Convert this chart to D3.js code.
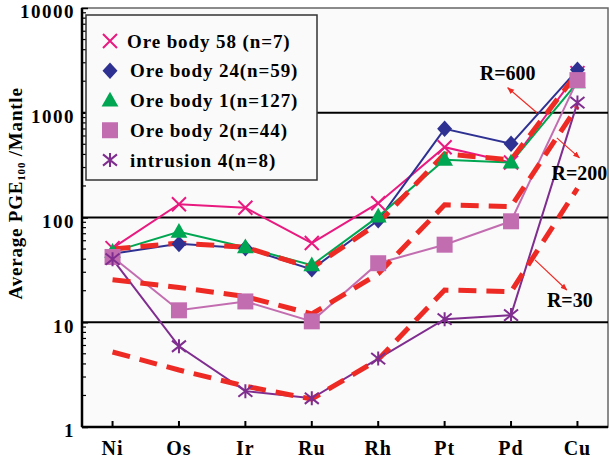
<!DOCTYPE html>
<html>
<head>
<meta charset="utf-8">
<script src="https://cdn.jsdelivr.net/npm/d3@7"></script>
<style>
  body { margin: 0; background: #fff; }
  text { font-family: "Liberation Serif", "Times New Roman", serif; font-weight: bold; }
</style>
</head>
<body>
<div id="wrapper"></div>
<script>
// data
const elements = ["Ni", "Os", "Ir", "Ru", "Rh", "Pt", "Pd", "Cu"]
const yTickValues = [1, 10, 100, 1000, 10000]

const oreBody58 = [51, 134, 124, 57, 137, 469, 335, 2390]
const oreBody24 = [45, 56, 51, 32, 94, 702, 505, 2570]
const oreBody1 = [47, 73, 52, 35, 102, 355, 335, 1950]
const oreBody2 = [42, 13, 15.8, 10.2, 36.6, 55, 92, 2050]
const intrusion4 = [40, 5.9, 2.2, 1.88, 4.5, 10.7, 11.7, 1250]

const modelR600 = [50, 57, 52, 33, 88, 405, 355, 2400]
const modelR200 = [25.5, 21.5, 17.6, 12, 29, 132, 127, 1150]
const modelR30 = [5.2, 3.5, 2.45, 1.85, 4.4, 20.3, 19.6, 190]

const seriesNames = ["Ore body 58 (n=7)", "Ore body 24(n=59)", "Ore body 1(n=127)", "Ore body 2(n=44)", "intrusion 4(n=8)"]

// annotation positions as (fractional element index, value)
const labels = [
  {text: "R=600", i: 5.95, v: 2400, anchor: "middle"},
  {text: "R=200", i: 7.45, v: 267, anchor: "end"},
  {text: "R=30", i: 6.54, v: 16.3, anchor: "start"},
]
const arrows = [
  {i0: 6.39, v0: 1000, i1: 5.95, v1: 1730},
  {i0: 6.69, v0: 576, i1: 7.03, v1: 371},
  {i0: 6.36, v0: 39.4, i1: 6.84, v1: 20.3},
]

const series = [
  {name: seriesNames[0], values: oreBody58, color: "#e8197f", marker: "x"},
  {name: seriesNames[1], values: oreBody24, color: "#2e3192", marker: "diamond"},
  {name: seriesNames[2], values: oreBody1, color: "#00a651", marker: "triangle"},
  {name: seriesNames[3], values: oreBody2, color: "#c36db1", marker: "square"},
  {name: seriesNames[4], values: intrusion4, color: "#7f2d8f", marker: "asterisk"},
]
const models = [modelR600, modelR200, modelR30]

let dimensions = {
  width: 610,
  height: 462,
  margin: {top: 8, right: 2, bottom: 35, left: 82},
}
dimensions.boundedWidth = dimensions.width - dimensions.margin.left - dimensions.margin.right
dimensions.boundedHeight = dimensions.height - dimensions.margin.top - dimensions.margin.bottom

const xScale = d3.scalePoint()
  .domain(elements)
  .range([0, dimensions.boundedWidth])
  .padding(0.46)

const step = xScale.step()
const xIdx = i => xScale(elements[0]) + i * step

const yScale = d3.scaleLog()
  .domain([1, 10000])
  .range([dimensions.boundedHeight, 0])

const svg = d3.select("#wrapper")
  .append("svg")
  .attr("width", dimensions.width)
  .attr("height", dimensions.height)

svg.append("defs").append("marker")
  .attr("id", "arrowhead")
  .attr("viewBox", "0 0 10 10")
  .attr("refX", 9).attr("refY", 5)
  .attr("markerWidth", 7).attr("markerHeight", 7)
  .attr("markerUnits", "userSpaceOnUse")
  .attr("orient", "auto")
  .append("path")
  .attr("d", "M0,1 L10,5 L0,9 Z")
  .attr("fill", "#ee2a24")

const bounds = svg.append("g")
  .attr("transform", `translate(${dimensions.margin.left},${dimensions.margin.top})`)

// plot background + frame
bounds.append("rect")
  .attr("width", dimensions.boundedWidth)
  .attr("height", dimensions.boundedHeight)
  .attr("fill", "#fafafa")
  .attr("stroke", "#666")
  .attr("stroke-width", 1.5)

// grid lines
bounds.selectAll(".grid")
  .data([10, 100, 1000])
  .join("line")
  .attr("x1", 0).attr("x2", dimensions.boundedWidth)
  .attr("y1", d => yScale(d)).attr("y2", d => yScale(d))
  .attr("stroke", "#000")
  .attr("stroke-width", 2)

// y axis
const yAxisGenerator = d3.axisRight(yScale)
  .tickValues(yTickValues)
  .tickSize(6)
  .tickFormat("")
const yAxis = bounds.append("g").call(yAxisGenerator)
yAxis.select(".domain").remove()
yAxis.selectAll(".tick line").attr("stroke", "#000").attr("stroke-width", 1.5)

const minor = []
for (let d = 1; d < 10000; d *= 10) for (let k = 2; k < 10; k++) minor.push(d * k)
bounds.selectAll(".minor")
  .data(minor)
  .join("line")
  .attr("x1", 0).attr("x2", 4)
  .attr("y1", d => yScale(d)).attr("y2", d => yScale(d))
  .attr("stroke", "#000")
  .attr("stroke-width", 1.2)

bounds.selectAll(".ylabel")
  .data(yTickValues)
  .join("text")
  .attr("x", -7)
  .attr("y", d => yScale(d))
  .attr("dy", "0.55em")
  .attr("text-anchor", "end")
  .attr("font-size", 19)
  .attr("letter-spacing", 1.5)
  .text(d => d)

// x axis
bounds.selectAll(".xtick")
  .data(elements)
  .join("line")
  .attr("x1", d => xScale(d)).attr("x2", d => xScale(d))
  .attr("y1", dimensions.boundedHeight).attr("y2", dimensions.boundedHeight - 6)
  .attr("stroke", "#000")
  .attr("stroke-width", 2)

bounds.selectAll(".xlabel")
  .data(elements)
  .join("text")
  .attr("x", d => xScale(d))
  .attr("y", dimensions.boundedHeight + 28)
  .attr("text-anchor", "middle")
  .attr("font-size", 20)
  .attr("letter-spacing", 1)
  .text(d => d)

// axis lines
bounds.append("line")
  .attr("x1", 0).attr("x2", 0)
  .attr("y1", 0).attr("y2", dimensions.boundedHeight)
  .attr("stroke", "#000").attr("stroke-width", 2.5)
bounds.append("line")
  .attr("x1", 0).attr("x2", dimensions.boundedWidth)
  .attr("y1", dimensions.boundedHeight).attr("y2", dimensions.boundedHeight)
  .attr("stroke", "#000").attr("stroke-width", 2.5)

// y title
svg.append("text")
  .attr("transform", `translate(22,${dimensions.margin.top + yScale(170)}) rotate(-90)`)
  .attr("text-anchor", "middle")
  .attr("font-size", 19)
  .attr("letter-spacing", 0.8)
  .call(t => {
    t.append("tspan").text("Average PGE")
    t.append("tspan").attr("font-size", 11).attr("dy", 3).text("100")
    t.append("tspan").attr("dy", -3).text(" /Mantle")
  })

const lineGenerator = d3.line()
  .x((d, i) => xScale(elements[i]))
  .y(d => yScale(d))

// markers
function markerPath(type, s) {
  const p = d3.path()
  if (type === "x") {
    p.moveTo(-s, -s); p.lineTo(s, s); p.moveTo(-s, s); p.lineTo(s, -s)
  } else if (type === "asterisk") {
    p.moveTo(-s, -s * 0.8); p.lineTo(s, s * 0.8); p.moveTo(-s, s * 0.8); p.lineTo(s, -s * 0.8)
    p.moveTo(0, -s); p.lineTo(0, s)
  } else if (type === "diamond") {
    p.moveTo(0, -s * 1.1); p.lineTo(s, 0); p.lineTo(0, s * 1.1); p.lineTo(-s, 0); p.closePath()
  } else if (type === "triangle") {
    p.moveTo(0, -s * 1.1); p.lineTo(s * 1.05, s * 0.75); p.lineTo(-s * 1.05, s * 0.75); p.closePath()
  } else if (type === "square") {
    p.rect(-s, -s, 2 * s, 2 * s)
  }
  return p.toString()
}
const markerSize = {x: 7, asterisk: 7, diamond: 7.5, triangle: 8, square: 8}
function drawMarker(sel, s) {
  sel.attr("d", markerPath(s.marker, markerSize[s.marker]))
    .attr("fill", (s.marker === "x" || s.marker === "asterisk") ? "none" : s.color)
    .attr("stroke", s.color)
    .attr("stroke-width", (s.marker === "x" || s.marker === "asterisk") ? 2 : 0)
}

// series lines
series.forEach(s => {
  bounds.append("path")
    .attr("d", lineGenerator(s.values))
    .attr("fill", "none")
    .attr("stroke", s.color)
    .attr("stroke-width", 2)
})

// model curves
models.forEach(m => {
  bounds.append("path")
    .attr("d", lineGenerator(m))
    .attr("fill", "none")
    .attr("stroke", "#ee2a24")
    .attr("stroke-width", 5)
    .attr("stroke-dasharray", "18,10")
})

// series markers
series.forEach(s => {
  bounds.selectAll(null)
    .data(s.values)
    .join("path")
    .attr("transform", (d, i) => `translate(${xScale(elements[i])},${yScale(d)})`)
    .call(sel => drawMarker(sel, s))
})

// annotations
bounds.selectAll(".arrow")
  .data(arrows)
  .join("line")
  .attr("x1", d => xIdx(d.i0)).attr("y1", d => yScale(d.v0))
  .attr("x2", d => xIdx(d.i1)).attr("y2", d => yScale(d.v1))
  .attr("stroke", "#ee2a24")
  .attr("stroke-width", 1.2)
  .attr("marker-end", "url(#arrowhead)")

bounds.selectAll(".rlabel")
  .data(labels)
  .join("text")
  .attr("x", d => xIdx(d.i))
  .attr("y", d => yScale(d.v))
  .attr("dy", "0.35em")
  .attr("text-anchor", d => d.anchor)
  .attr("font-size", 20)
  .text(d => d.text)

// legend
const legend = svg.append("g")
legend.append("rect")
  .attr("x", 86).attr("y", 15)
  .attr("width", 231).attr("height", 165)
  .attr("fill", "#fafafa")
  .attr("stroke", "#333")
  .attr("stroke-width", 1.5)

const legendY = d3.scalePoint()
  .domain(seriesNames)
  .range([41, 160])

series.forEach((s, i) => {
  const g = legend.append("g")
    .attr("transform", `translate(110,${legendY(s.name)})`)
  g.append("path").call(sel => drawMarker(sel, s))
  g.append("text")
    .attr("x", i === 0 ? 17 : 20)
    .attr("dy", "0.35em")
    .attr("font-size", 19)
    .attr("letter-spacing", 0.9)
    .text(s.name)
})
</script>
</body>
</html>
